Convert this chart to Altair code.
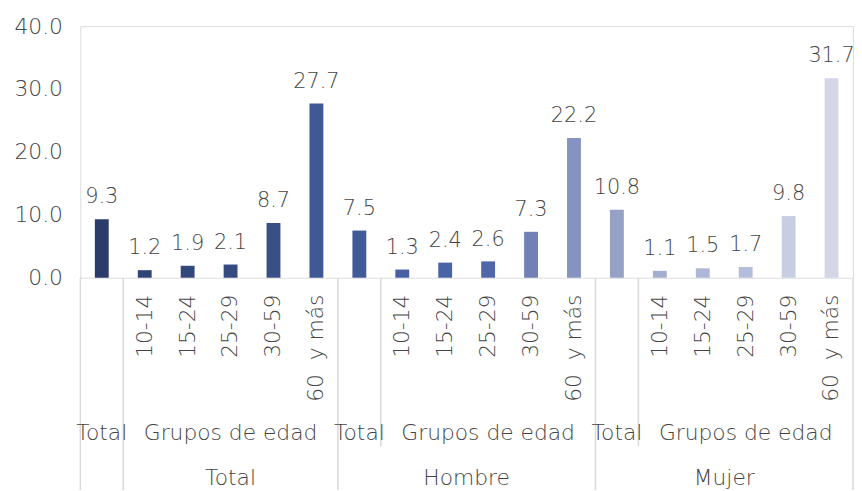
import altair as alt
import pandas as pd

groups = ["Total", "Hombre", "Mujer"]
subcats = ["Total", "10-14", "15-24", "25-29", "30-59", "60\u00a0 y más"]
values_total = [9.3, 1.2, 1.9, 2.1, 8.7, 27.7]
values_hombre = [7.5, 1.3, 2.4, 2.6, 7.3, 22.2]
values_mujer = [10.8, 1.1, 1.5, 1.7, 9.8, 31.7]
level2_labels = ["Total", "Grupos de edad"]
y_ticks = [0, 10, 20, 30, 40]

bar_colors = [
    "#2B3C6A", "#2F4476", "#32477C", "#344A80", "#394F88", "#405894",
    "#415A98", "#4860A3", "#4A63A6", "#5068AA", "#7181B5", "#8493C0",
    "#96A2C5", "#A4AFD0", "#AEB8D6", "#B4BDD9", "#C8CEE2", "#D2D6E6",
]

W, H = 780, 254
N = 18
STEP = W / N
FONT = "DejaVu Sans"
FW = 200
FS = 22
FS_VAL = 21
TXT = "#444444"
LINE = "#D9D9D9"

rows = []
for g, vals in zip(groups, [values_total, values_hombre, values_mujer]):
    for s, v in zip(subcats, vals):
        rows.append({"id": f"{g}|{s}", "group": g, "sub": s, "value": v})
df = pd.DataFrame(rows)
ids = list(df["id"])
df["color"] = bar_colors

xscale = alt.Scale(domain=ids, paddingInner=0.677, paddingOuter=0.3385)
X = lambda **kw: alt.X("id:N", scale=xscale, axis=None, **kw)

bars = alt.Chart(df).mark_bar().encode(
    x=alt.X("id:N", scale=xscale, axis=alt.Axis(labels=False, ticks=False, title=None,
                                                  domainColor=LINE, domainWidth=1.5)),
    y=alt.Y("value:Q", scale=alt.Scale(domain=[0, 40], nice=False),
            axis=alt.Axis(values=y_ticks, format=".1f", grid=False, domain=False, ticks=False,
                          title=None, labelFontSize=FS, labelColor=TXT, labelFont=FONT,
                          labelFontWeight=FW, labelPadding=18)),
    color=alt.Color("color:N", scale=None),
)

value_labels = alt.Chart(df).mark_text(
    baseline="bottom", dy=-12, fontSize=FS_VAL, color=TXT, font=FONT, fontWeight=FW
).encode(x=X(), y="value:Q", text=alt.Text("value:Q", format=".1f"))

age_df = df[df["sub"] != "Total"]
age_labels = alt.Chart(age_df).mark_text(
    angle=270, align="right", baseline="middle", fontSize=FS, color=TXT, font=FONT, fontWeight=FW
).encode(x=X(), y=alt.value(H + 17), text="sub:N")

lvl2_rows = []
for g in groups:
    lvl2_rows.append({"id": f"{g}|{subcats[0]}", "label": level2_labels[0]})
    lvl2_rows.append({"id": f"{g}|{subcats[3]}", "label": level2_labels[1]})
lvl2 = alt.Chart(pd.DataFrame(lvl2_rows)).mark_text(
    baseline="middle", fontSize=FS, color=TXT, font=FONT, fontWeight=FW
).encode(x=X(), y=alt.value(H + 157), text="label:N")

lvl3a = alt.Chart(pd.DataFrame([{"id": f"{groups[0]}|{subcats[3]}", "label": groups[0]}])).mark_text(
    baseline="middle", fontSize=FS, color=TXT, font=FONT, fontWeight=FW
).encode(x=X(), y=alt.value(H + 202), text="label:N")
lvl3b = alt.Chart(pd.DataFrame([{"id": f"{g}|{subcats[2]}", "label": g} for g in groups[1:]])).mark_text(
    baseline="middle", fontSize=FS, color=TXT, font=FONT, fontWeight=FW, dx=STEP / 2
).encode(x=X(), y=alt.value(H + 202), text="label:N")

full_left = pd.DataFrame({"id": [ids[0], ids[1], ids[6], ids[12]]})
part_left = pd.DataFrame({"id": [ids[7], ids[13]]})
right_edge = pd.DataFrame({"id": [ids[17]]})

sep_full = alt.Chart(full_left).mark_rule(color=LINE, strokeWidth=1.5, xOffset=-STEP / 2).encode(
    x=X(bandPosition=0.5), y=alt.value(H), y2=alt.value(H + 215))
sep_part = alt.Chart(part_left).mark_rule(color=LINE, strokeWidth=1.5, xOffset=-STEP / 2).encode(
    x=X(bandPosition=0.5), y=alt.value(H), y2=alt.value(H + 170))
sep_right = alt.Chart(right_edge).mark_rule(color=LINE, strokeWidth=1.5, xOffset=STEP / 2).encode(
    x=X(bandPosition=0.5), y=alt.value(H), y2=alt.value(H + 215))

chart = alt.layer(
    sep_full, sep_part, sep_right, bars, value_labels, age_labels, lvl2, lvl3a, lvl3b
).properties(
    width=W, height=H,
    autosize=alt.AutoSizeParams(type="none"),
    padding={"left": 73, "top": 16, "right": 1, "bottom": 212},
).configure_view(stroke=None).configure(background="white")

chart.save("out.html", embed_options={"renderer": "svg", "actions": False})
